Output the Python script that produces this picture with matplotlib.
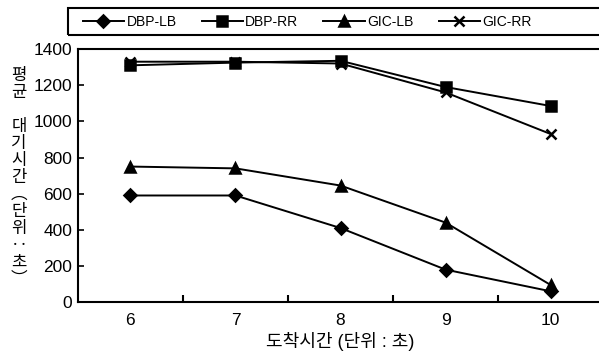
import matplotlib
matplotlib.use('Agg')
import matplotlib.pyplot as plt
from matplotlib.patches import Rectangle

plt.rcParams['font.family'] = ['Liberation Sans', 'Noto Sans CJK KR']

arrival = ['6', '7', '8', '9', '10']
dbp_lb = [590, 590, 410, 180, 60]
dbp_rr = [1310, 1325, 1335, 1190, 1085]
gic_lb = [750, 740, 645, 440, 95]
gic_rr = [1330, 1330, 1320, 1160, 930]
yticks = [0, 200, 400, 600, 800, 1000, 1200, 1400]

fig = plt.figure(figsize=(5.99, 3.58), dpi=100)
ax = fig.add_axes([0.130, 0.156, 0.877, 0.707])

x = range(len(arrival))
series = [(dbp_lb, 'D', 6, 'DBP-LB'), (dbp_rr, 's', 6.5, 'DBP-RR'),
          (gic_lb, '^', 7.5, 'GIC-LB'), (gic_rr, 'x', 7.5, 'GIC-RR')]
for vals, m, ms, lab in series:
    ax.plot(x, vals, color='black', lw=1.4, marker=m, ms=ms, mew=1.8, label=lab)

ax.set_xlim(-0.5, len(arrival) - 0.5)
ax.set_ylim(0, 1400)
ax.set_yticks(yticks)
ax.set_xticks([i + 0.5 for i in range(len(arrival) - 1)])
ax.set_xticklabels([])
ax.set_xticks(list(x), minor=True)
ax.set_xticklabels(arrival, minor=True)
ax.tick_params(axis='x', which='minor', length=0, labelsize=12.5, pad=8)
ax.tick_params(axis='x', which='major', direction='in', length=5, width=1.5)
ax.tick_params(axis='y', direction='in', length=4, width=1.2, labelsize=12.5, pad=4)
for s in ax.spines.values():
    s.set_linewidth(1.5)

ax.set_xlabel('도착시간 (단위 : 초)', fontsize=13, labelpad=3)
ylab = '\n'.join(['평', '균', '', '대', '기', '시', '간', '︵', '단', '위', '‥', '초', '︶'])
fig.text(0.032, 0.505, ylab, ha='center', va='center', fontsize=12,
         linespacing=1.0, family=['Noto Sans CJK KR', 'DejaVu Sans'])

# legend box drawn separately, entries laid out inside it
fig.patches.append(Rectangle((0.114, 1 - 35 / 358), 0.9, 27 / 358,
                             transform=fig.transFigure, fill=False,
                             edgecolor='black', lw=1.5))
fig.legend(loc='center left', bbox_to_anchor=(0.138, 1 - 21.5 / 358),
           ncol=4, frameon=False, fontsize=10, handlelength=3.0,
           handletextpad=0.15, columnspacing=1.8,
           borderaxespad=0, borderpad=0)

fig.savefig('out.png', dpi=100)
